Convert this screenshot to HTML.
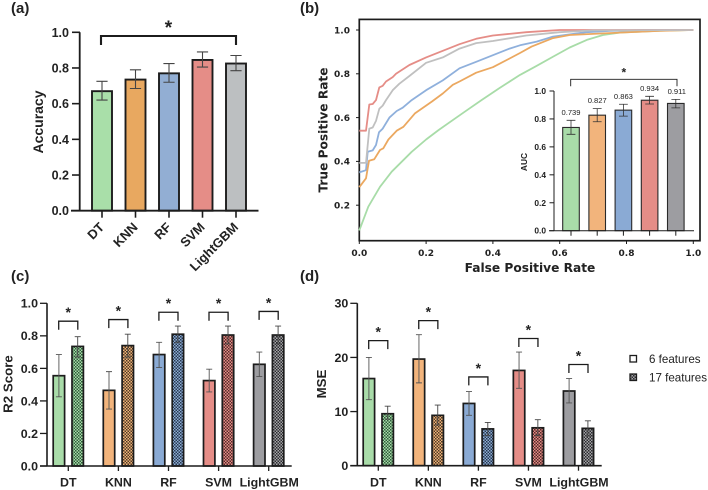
<!DOCTYPE html>
<html lang="en">
<head>
<meta charset="utf-8">
<title>Model comparison chart</title>
<style>
html,body{margin:0;padding:0;background:#fff;width:708px;height:490px;overflow:hidden}
svg{display:block}
text{font-family:"Liberation Sans",sans-serif;fill:#222}
.dv{font-family:"DejaVu Sans",sans-serif;font-weight:700}
.b{font-weight:700}
</style>
</head>
<body>
<svg id="figure" xmlns="http://www.w3.org/2000/svg" width="708" height="490" viewBox="0 0 708 490">
<defs>
<filter id="soft" x="0" y="0" width="100%" height="100%"><feGaussianBlur stdDeviation="0.3"/></filter>
</defs>
<g id="root" filter="url(#soft)"></g>
</svg>
<script>
// Panel (a)
const accModels = ['DT', 'KNN', 'RF', 'SVM', 'LightGBM'];
const accValues = [0.67, 0.735, 0.77, 0.845, 0.825];
const accUpper = [0.725, 0.79, 0.825, 0.89, 0.87];
const accLower = [0.62, 0.685, 0.72, 0.805, 0.785];
const unitTicks = [0, 0.2, 0.4, 0.6, 0.8, 1.0];

// Panel (b) ROC curves
const rocTicksX = [0, 0.2, 0.4, 0.6, 0.8, 1.0];
const rocTicksY = [0.2, 0.4, 0.6, 0.8, 1.0];
const greenFpr = [0, 0.027, 0.062, 0.097, 0.157, 0.2, 0.237, 0.316, 0.366, 0.42, 0.481, 0.53, 0.581, 0.63, 0.681, 0.73, 0.78, 0.9, 1];
const greenTpr = [0.085, 0.193, 0.284, 0.353, 0.444, 0.5, 0.543, 0.627, 0.68, 0.735, 0.795, 0.835, 0.879, 0.92, 0.955, 0.977, 0.988, 0.997, 1];
const orangeFpr = [0, 0.02, 0.029, 0.045, 0.062, 0.072, 0.087, 0.112, 0.132, 0.167, 0.217, 0.25, 0.28, 0.3, 0.35, 0.4, 0.45, 0.481, 0.516, 0.58, 0.63, 0.7, 0.78, 0.9, 1];
const orangeTpr = [0.282, 0.323, 0.403, 0.41, 0.452, 0.46, 0.5, 0.54, 0.558, 0.62, 0.673, 0.71, 0.75, 0.765, 0.805, 0.83, 0.87, 0.895, 0.924, 0.963, 0.977, 0.982, 0.988, 0.996, 1];
const blueFpr = [0, 0.02, 0.025, 0.04, 0.05, 0.059, 0.07, 0.09, 0.112, 0.13, 0.157, 0.2, 0.25, 0.3, 0.35, 0.4, 0.45, 0.481, 0.531, 0.58, 0.63, 0.68, 0.75, 0.85, 1];
const blueTpr = [0.35, 0.36, 0.444, 0.45, 0.475, 0.533, 0.55, 0.6, 0.63, 0.645, 0.68, 0.725, 0.77, 0.825, 0.855, 0.885, 0.915, 0.93, 0.947, 0.97, 0.98, 0.99, 0.996, 1, 1];
const grayFpr = [0, 0.02, 0.03, 0.04, 0.05, 0.06, 0.07, 0.08, 0.1, 0.12, 0.15, 0.2, 0.25, 0.3, 0.35, 0.4, 0.5, 0.6, 0.7, 1];
const grayTpr = [0.393, 0.393, 0.55, 0.555, 0.585, 0.64, 0.655, 0.68, 0.725, 0.755, 0.79, 0.85, 0.875, 0.915, 0.94, 0.95, 0.975, 0.99, 0.998, 1];
const redFpr = [0, 0.02, 0.03, 0.04, 0.05, 0.06, 0.07, 0.08, 0.1, 0.11, 0.15, 0.2, 0.25, 0.3, 0.35, 0.4, 0.5, 0.6, 1];
const redTpr = [0.54, 0.54, 0.66, 0.662, 0.68, 0.738, 0.745, 0.765, 0.785, 0.8, 0.84, 0.875, 0.905, 0.935, 0.96, 0.975, 0.99, 1, 1];

// Panel (b) inset
const aucValues = [0.739, 0.827, 0.863, 0.934, 0.911];
const aucLabels = ['0.739', '0.827', '0.863', '0.934', '0.911'];
const aucUpper = [0.79, 0.874, 0.905, 0.962, 0.94];
const aucLower = [0.69, 0.78, 0.82, 0.907, 0.879];

// Panel (c)
const r2Six = [0.555, 0.465, 0.685, 0.525, 0.625];
const r2SixUpper = [0.685, 0.58, 0.76, 0.595, 0.7];
const r2SixLower = [0.425, 0.35, 0.605, 0.455, 0.55];
const r2Seventeen = [0.735, 0.74, 0.81, 0.805, 0.805];
const r2SeventeenUpper = [0.795, 0.81, 0.86, 0.86, 0.86];
const r2SeventeenLower = [0.67, 0.67, 0.76, 0.75, 0.75];
const r2Bracket = [0.89, 0.9, 0.945, 0.945, 0.95];

// Panel (d)
const mseTicks = [0, 10, 20, 30];
const mseSix = [16.1, 19.7, 11.5, 17.6, 13.8];
const mseSixUpper = [20, 24.2, 13.7, 21, 16.1];
const mseSixLower = [12.2, 15.3, 9.3, 14.3, 11.6];
const mseSeventeen = [9.6, 9.3, 6.8, 7.0, 6.9];
const mseSeventeenUpper = [11, 11.2, 8, 8.5, 8.3];
const mseSeventeenLower = [8.6, 7.5, 5.6, 5.6, 5.5];
const mseBracket = [23.1, 26.8, 16.4, 23.5, 18.7];

const NS = 'http://www.w3.org/2000/svg';
const root = document.getElementById('root');
const defs = document.querySelector('defs');
const DARK = '#1c1c1c';

function mk(tag, attrs, parent) {
  const el = document.createElementNS(NS, tag);
  for (const k in attrs) el.setAttribute(k, attrs[k]);
  (parent || root).appendChild(el);
  return el;
}
function txt(str, attrs, parent) {
  const el = mk('text', attrs, parent);
  el.textContent = str;
  return el;
}
function hatch(id, base, dot) {
  const p = mk('pattern', {id: id, width: 3, height: 3, patternUnits: 'userSpaceOnUse'}, defs);
  mk('rect', {width: 3, height: 3, fill: base}, p);
  mk('rect', {width: 1.5, height: 1.5, fill: dot}, p);
  mk('rect', {x: 1.5, y: 1.5, width: 1.5, height: 1.5, fill: dot}, p);
}
hatch('h-green', '#a9dca9', '#2f5c3a');
hatch('h-orange', '#f0b37a', '#4f3a25');
hatch('h-blue', '#8fadd4', '#26384f');
hatch('h-red', '#e58d87', '#552c2c');
hatch('h-gray', '#a5a5a8', '#2c2c2e');

const colorsA = ['#a9dfa9', '#e8a860', '#92aed3', '#e58d87', '#bcbfc1'];
const colorsB = ['#a9dca9', '#f2b47c', '#8aaad4', '#e58d87', '#9d9da1'];
const hatchIds = ['url(#h-green)', 'url(#h-orange)', 'url(#h-blue)', 'url(#h-red)', 'url(#h-gray)'];

function errBar(g, cx, yHi, yLo, cap, color, w) {
  const e = mk('path', {d: `M${cx - cap} ${yHi}H${cx + cap}M${cx} ${yHi}V${yLo}M${cx - cap} ${yLo}H${cx + cap}`, fill: 'none', stroke: color, 'stroke-width': w}, g);
  
  
}
function bracket(g, x1, x2, yTop, drop, w, starSize, starDy) {
  const b = mk('path', {d: `M${x1} ${yTop + drop}V${yTop}H${x2}V${yTop + drop}`, fill: 'none', stroke: DARK, 'stroke-width': w}, g);
  
  
  const s = txt('*', {x: (x1 + x2) / 2, y: yTop + starDy, 'font-size': starSize, 'font-weight': 700, 'text-anchor': 'middle'}, g);
  
  
}
function axisLine(g, d, w) {
  const a = mk('path', {d: d, fill: 'none', stroke: DARK, 'stroke-width': w}, g);
  
  
}
function panelLabel(str, x, y, name) {
  const t = txt(str, {x: x, y: y, 'font-size': 15, 'font-weight': 700});
  
  
}
function yTitle(g, str, x, y, size, cls) {
  const t = txt(str, {x: x, y: y, 'font-size': size, 'font-weight': 700, 'text-anchor': 'middle', transform: `rotate(-90 ${x} ${y})`}, g);
  if (cls) t.setAttribute('class', cls);
  
  
}

/* ---------- Panel (a) ---------- */
const ga = mk('g', {});


panelLabel('(a)', 11, 13, 'panel-a-label');
const yA = v => 210.7 - v * 178.4;
const xA = i => 102 + i * 33.5;
accValues.forEach((v, i) => {
  const r = mk('rect', {x: xA(i) - 10, y: yA(v), width: 20, height: yA(0) - yA(v), fill: colorsA[i], stroke: DARK, 'stroke-width': 1.9}, ga);
  
  
  errBar(ga, xA(i), yA(accUpper[i]), yA(accLower[i]), 5.6, '#444', 1.1);
  const t = mk('line', {x1: xA(i), x2: xA(i), y1: yA(0), y2: yA(0) + 7, stroke: DARK, 'stroke-width': 1.6}, ga);
  
  
  const l = txt(accModels[i], {x: xA(i) + 3, y: 228, 'font-size': 13, 'font-weight': 700, 'text-anchor': 'end', transform: `rotate(-45 ${xA(i) + 3} 228)`}, ga);
  
  
});
axisLine(ga, `M79.7 ${yA(1)}V${yA(0)}M71 ${yA(0)}H258.5`, 1.8);
unitTicks.forEach(v => {
  const t = mk('line', {x1: 72, x2: 80, y1: yA(v), y2: yA(v), stroke: DARK, 'stroke-width': 1.6}, ga);
  
  
  const l = txt(v.toFixed(1), {x: 69, y: yA(v) + 4.5, 'font-size': 12.5, 'font-weight': 700, 'text-anchor': 'end'}, ga);
  
  
});
yTitle(ga, 'Accuracy', 43, 122, 14);
bracket(ga, 101, 236, 36, 9, 2.1, 19, -2);

/* ---------- Panel (b) ---------- */
const gb = mk('g', {});


panelLabel('(b)', 300, 13, 'panel-b-label');
const xB = v => 359.3 + v * 334;
const yB = v => 249 - v * 219;
const frame = mk('rect', {x: 359.3, y: 19.4, width: 340.7, height: 221.3, fill: '#fff', stroke: DARK, 'stroke-width': 1.7}, gb);



function curve(xs, ys, color, name) {
  const d = xs.map((x, i) => (i ? 'L' : 'M') + xB(x).toFixed(1) + ' ' + yB(ys[i]).toFixed(1)).join('');
  const c = mk('path', {d: d, fill: 'none', stroke: color, 'stroke-width': 1.8, 'stroke-linejoin': 'round'}, gb);
  
  
}
curve(greenFpr, greenTpr, '#a8dca8', 'roc-curve-dt');
curve(blueFpr, blueTpr, '#8fb0dc', 'roc-curve-rf');
curve(orangeFpr, orangeTpr, '#eba860', 'roc-curve-knn');
curve(redFpr, redTpr, '#e58d87', 'roc-curve-svm');
curve(grayFpr, grayTpr, '#c0c0c0', 'roc-curve-lightgbm');

rocTicksX.forEach(v => {
  const t = mk('line', {x1: xB(v), x2: xB(v), y1: 240.7, y2: 244, stroke: DARK, 'stroke-width': 1}, gb);
  
  
  const l = txt(v.toFixed(1), {x: xB(v), y: 256, 'font-size': 9, 'text-anchor': 'middle', 'class': 'dv'}, gb);
  
  
});
rocTicksY.forEach(v => {
  const t = mk('line', {x1: 356, x2: 359.3, y1: yB(v), y2: yB(v), stroke: DARK, 'stroke-width': 1}, gb);
  
  
  const l = txt(v.toFixed(1), {x: 350, y: yB(v) + 3.3, 'font-size': 9, 'text-anchor': 'end', 'class': 'dv'}, gb);
  
  
});
const fprTitle = txt('False Positive Rate', {x: 530, y: 272, 'font-size': 12.2, 'text-anchor': 'middle', 'class': 'dv'}, gb);


yTitle(gb, 'True Positive Rate', 327.5, 130, 12.2, 'dv');

/* inset */
const gi = mk('g', {}, gb);


const yI = v => 230.7 - v * 139.7;
const xI = i => 571 + i * 26.2;
aucValues.forEach((v, i) => {
  const r = mk('rect', {x: xI(i) - 8.3, y: yI(v), width: 16.6, height: yI(0) - yI(v), fill: colorsB[i], stroke: '#2a2a2a', 'stroke-width': 1.1}, gi);
  
  
  errBar(gi, xI(i), yI(aucUpper[i]), yI(aucLower[i]), 4.4, '#333', 0.8);
  const t = mk('line', {x1: xI(i), x2: xI(i), y1: yI(0), y2: yI(0) + 5, stroke: DARK, 'stroke-width': 1}, gi);
  
  
  const l = txt(aucLabels[i], {x: xI(i) + (i === 4 ? 1 : 0), y: yI(aucUpper[i]) - 5.5, 'font-size': 7.6, 'text-anchor': 'middle'}, gi);
  l.setAttribute('fill', '#444');
  
  
});
axisLine(gi, `M554 ${yI(1)}V${yI(0)}M549 ${yI(0)}H694`, 1);
unitTicks.forEach(v => {
  const t = mk('line', {x1: 549.5, x2: 554, y1: yI(v), y2: yI(v), stroke: DARK, 'stroke-width': 1}, gi);
  
  
  const l = txt(v.toFixed(1), {x: 546, y: yI(v) + 3, 'font-size': 8.4, 'font-weight': 700, 'text-anchor': 'end'}, gi);
  
  
});
const aucTitle = txt('AUC', {x: 527, y: 162, 'font-size': 8.4, 'font-weight': 700, 'text-anchor': 'middle', transform: 'rotate(-90 527 162)'}, gi);


bracket(gi, 570.7, 677, 79.3, 7, 0.9, 12, -3);

/* ---------- Panels (c) and (d) ---------- */
function grouped(g, o) {
  accModels.forEach((m, i) => {
    const cx = o.gx(i);
    const xs = cx - 9.4, xh = cx + 9.4;
    const r1 = mk('rect', {x: xs - 5.7, y: o.y(o.six[i]), width: 11.4, height: o.y(0) - o.y(o.six[i]), fill: colorsB[i], stroke: DARK, 'stroke-width': 1.7}, g);
    
    
    const r2 = mk('rect', {x: xh - 5.7, y: o.y(o.sev[i]), width: 11.4, height: o.y(0) - o.y(o.sev[i]), fill: hatchIds[i], stroke: DARK, 'stroke-width': 1.7}, g);
    
    
    errBar(g, xs, o.y(o.sixU[i]), o.y(o.sixL[i]), 3, '#555', 0.9);
    errBar(g, xh, o.y(o.sevU[i]), o.y(o.sevL[i]), 3, '#444', 0.9);
    const t = mk('line', {x1: cx, x2: cx, y1: o.y(0), y2: o.y(0) + 5, stroke: DARK, 'stroke-width': 1.3}, g);
    
    
    const l = txt(m, {x: cx + (m === 'LightGBM' ? 0.5 : 0), y: 486.5, 'font-size': 12.4, 'font-weight': 700, 'text-anchor': 'middle'}, g);
    
    
    bracket(g, xs - 0.2, xh + 0.1, o.y(o.br[i]), 8.5, 1.3, 14, -4);
  });
  axisLine(g, `M${o.ax} ${o.y(o.ticks[o.ticks.length - 1])}V${o.y(0)}M${o.ax - 7} ${o.y(0)}H${o.end}`, 1.6);
  o.ticks.forEach(v => {
    const t = mk('line', {x1: o.ax - 7, x2: o.ax, y1: o.y(v), y2: o.y(v), stroke: DARK, 'stroke-width': 1.3}, g);
    
    
    const l = txt(o.fmt(v), {x: o.ax - 9, y: o.y(v) + 4.4, 'font-size': 12.4, 'font-weight': 700, 'text-anchor': 'end'}, g);
    
    
  });
}

const gc = mk('g', {});


panelLabel('(c)', 11, 281, 'panel-c-label');
grouped(gc, {
  gx: i => 68.3 + i * 50.1, y: v => 466 - v * 162.7, ticks: unitTicks, fmt: v => v.toFixed(1),
  six: r2Six, sixU: r2SixUpper, sixL: r2SixLower, sev: r2Seventeen, sevU: r2SeventeenUpper, sevL: r2SeventeenLower,
  br: r2Bracket, ax: 47, end: 291.7
});
yTitle(gc, 'R2 Score', 12.5, 384, 13.3);

const gd = mk('g', {});


panelLabel('(d)', 300, 281, 'panel-d-label');
grouped(gd, {
  gx: i => 378.3 + i * 50.05, y: v => 465.7 - v * 5.413, ticks: mseTicks, fmt: v => String(v),
  six: mseSix, sixU: mseSixUpper, sixL: mseSixLower, sev: mseSeventeen, sevU: mseSeventeenUpper, sevL: mseSeventeenLower,
  br: mseBracket, ax: 357.3, end: 601.7
});
yTitle(gd, 'MSE', 326, 384, 13.3);

/* ---------- Legend ---------- */
const lg = mk('g', {});


const sw1 = mk('rect', {x: 630, y: 355.5, width: 6.5, height: 6.5, fill: '#fff', stroke: DARK, 'stroke-width': 1.3}, lg);


const sw2 = mk('rect', {x: 630, y: 374, width: 6.5, height: 6.5, fill: 'url(#h-gray)', stroke: DARK, 'stroke-width': 1.3}, lg);


const lt1 = txt('6 features', {x: 649, y: 362.8, 'font-size': 11.6}, lg);


const lt2 = txt('17 features', {x: 649, y: 381.6, 'font-size': 11.6}, lg);


</script>
</body>
</html>
